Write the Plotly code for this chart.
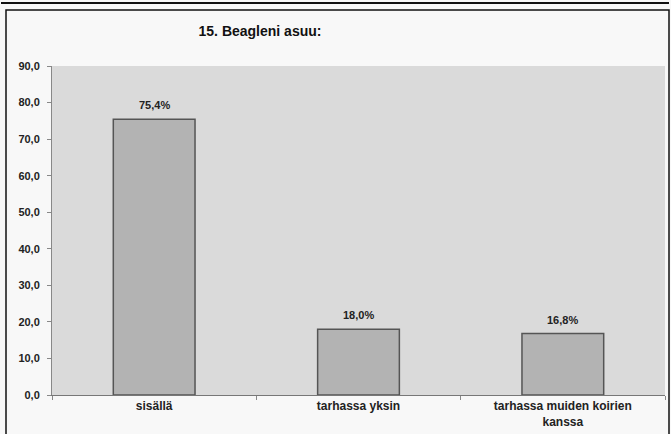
import plotly.graph_objects as go

categories = ["sisällä", "tarhassa yksin", "tarhassa muiden koirien<br>kanssa"]
values = [75.4, 18.0, 16.8]
y_ticks = [0, 10, 20, 30, 40, 50, 60, 70, 80, 90]

fnt = "Liberation Sans, Arial, sans-serif"

fig = go.Figure(go.Bar(
    x=categories,
    y=values,
    marker=dict(color="#b3b3b3", line=dict(color="#555555", width=1.5)),
    width=0.4,
    hoverinfo="skip",
))

# value labels above the bars
for c, v in zip(categories, values):
    fig.add_annotation(x=c, y=v, text=("%.1f" % v).replace(".", ",") + "%",
                       showarrow=False, yshift=14,
                       font=dict(family=fnt, size=11, color="#222222", weight="bold"))

# frame around the chart (paper coords relative to plot area)
W, H = 671, 434
L, R, T, B = 52, 6, 66, 39
pw, ph = W - L - R, H - T - B
px = lambda x: (x - L) / pw
py = lambda y: (H - B - y) / ph
fig.add_shape(type="line", xref="paper", yref="paper",
              x0=px(1), x1=px(669), y0=py(3), y1=py(3),
              line=dict(color="#111111", width=2))
fig.add_shape(type="rect", xref="paper", yref="paper",
              x0=px(6), x1=px(669), y0=py(10), y1=py(440),
              line=dict(color="#111111", width=1.5))

tick_font = dict(family=fnt, size=11, color="#222222", weight="bold")

fig.update_layout(
    width=W, height=H,
    margin=dict(l=L, r=R, t=T, b=B, autoexpand=False),
    paper_bgcolor="#f8f8f8",
    plot_bgcolor="#dadada",
    separators=", ",
    font=dict(family=fnt, size=11, color="#222222"),
    title=dict(text="15. Beagleni asuu:", x=260 / W, xanchor="center",
               y=1 - 31 / H, yanchor="middle",
               font=dict(family=fnt, size=14, color="#111111", weight="bold")),
    showlegend=False,
    xaxis=dict(showline=True, linecolor="#777777", linewidth=1,
               ticks="outside", tickson="boundaries", ticklen=4, tickcolor="#888888",
               tickfont=dict(tick_font, size=12), showgrid=False, automargin=False),
    yaxis=dict(range=[0, 90], tickvals=y_ticks, tickformat=".1f",
               showline=True, linecolor="#888888", linewidth=1,
               ticks="outside", ticklen=4, tickcolor="#888888", ticklabelstandoff=5,
               showgrid=False, zeroline=False, automargin=False,
               tickfont=tick_font),
)

# page body has a default margin; drop it so the figure sits at the top-left corner
fig.write_html("out.html", config={"displayModeBar": False},
               post_script="document.body.style.margin='0';")
